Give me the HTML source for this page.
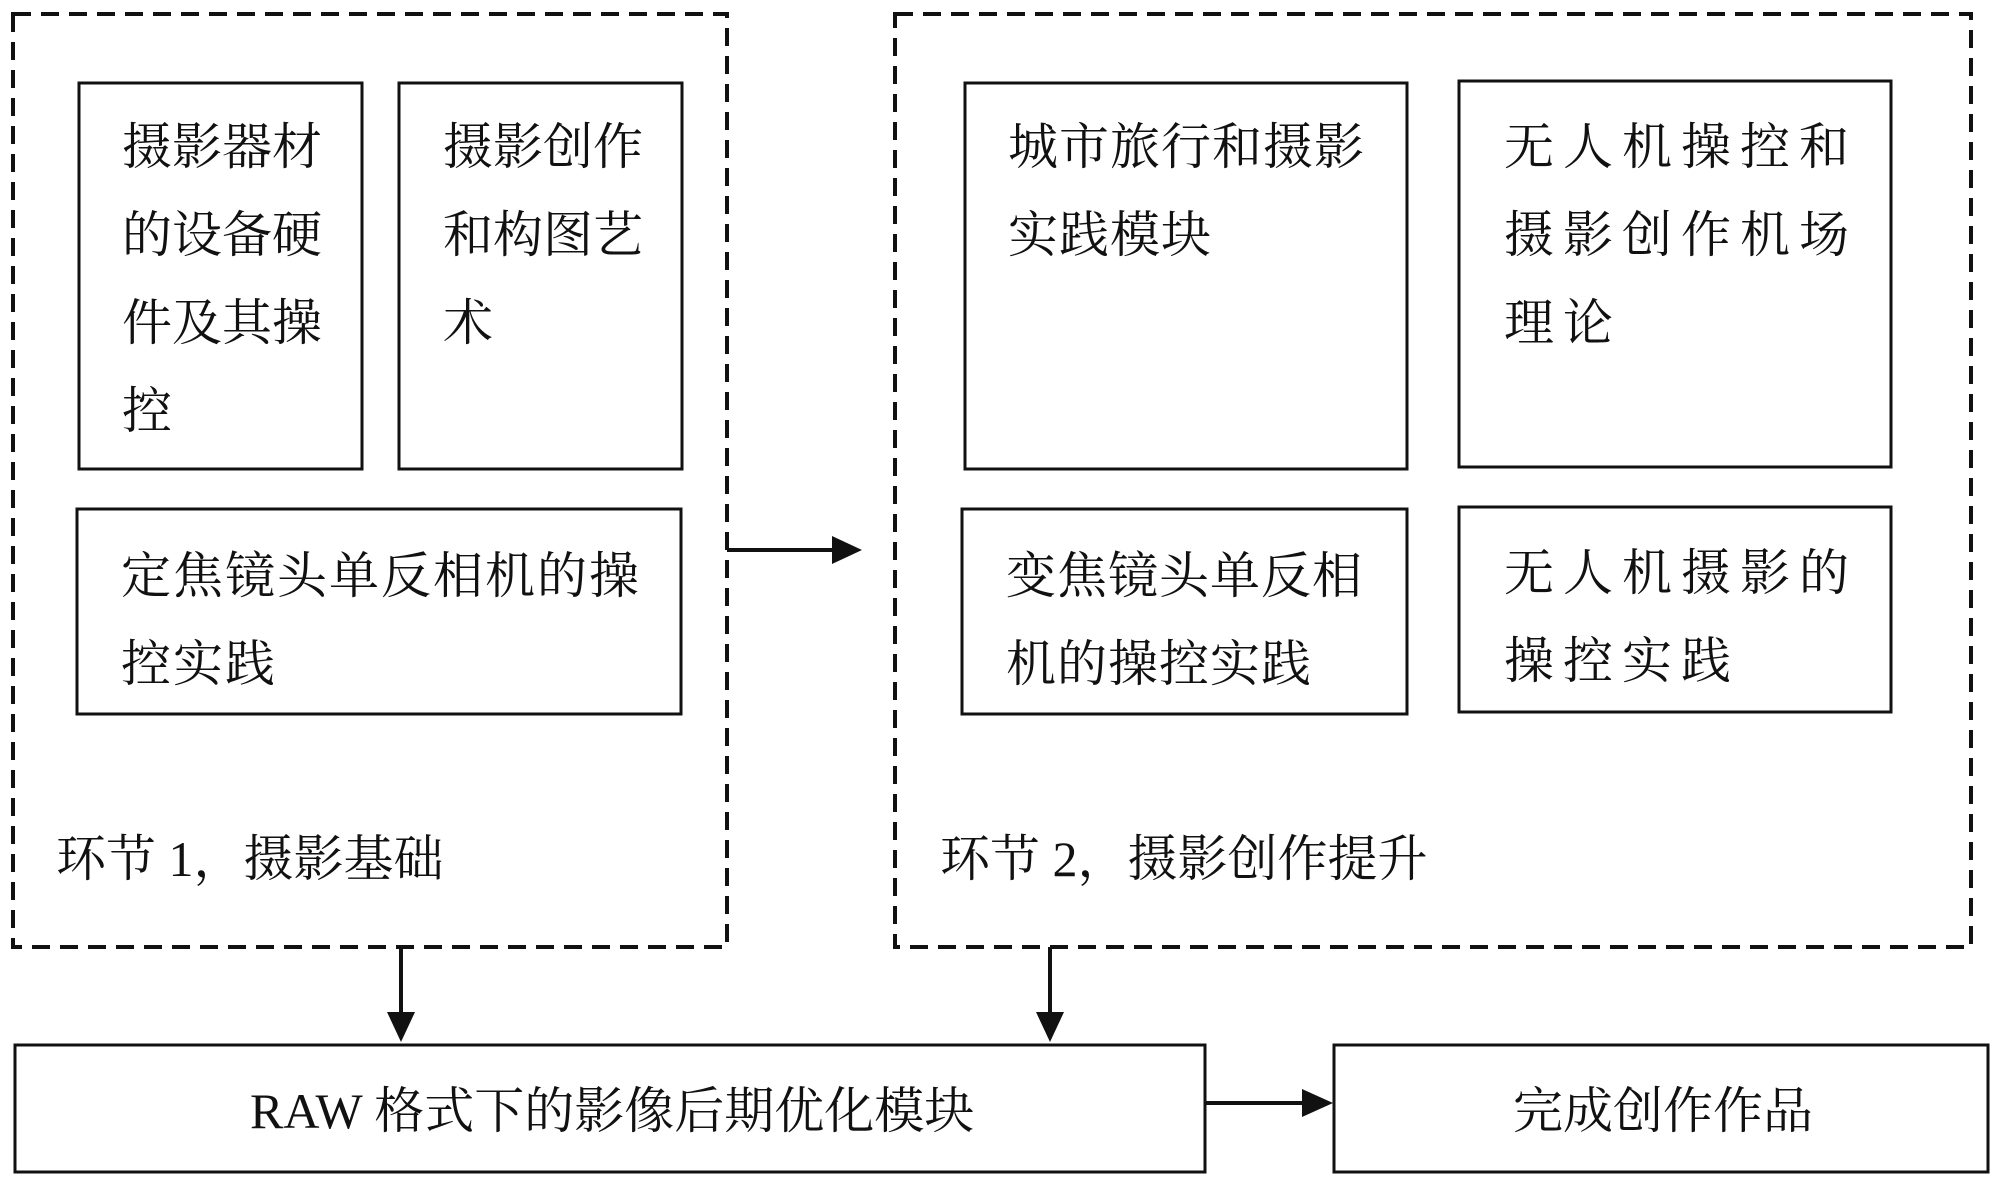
<!DOCTYPE html>
<html><head><meta charset="utf-8"><style>
html,body{margin:0;padding:0;background:#fff;}
body{width:2000px;height:1197px;position:relative;overflow:hidden;}
.t{position:absolute;font-family:"Liberation Serif","Noto Serif CJK SC",serif;font-size:50px;line-height:88px;color:#111;white-space:nowrap;}
svg{position:absolute;left:0;top:0;}
</style></head><body>
<svg width="2000" height="1197" viewBox="0 0 2000 1197">
<g fill="none" stroke="#111" stroke-width="4" stroke-dasharray="18 10">
<rect x="13" y="14" width="714" height="933"/>
<rect x="895" y="14" width="1076" height="933"/>
</g>
<g fill="none" stroke="#111" stroke-width="3">
<rect x="79" y="83" width="283" height="386"/>
<rect x="399" y="83" width="283" height="386"/>
<rect x="77" y="509" width="604" height="205"/>
<rect x="965" y="83" width="442" height="386"/>
<rect x="1459" y="81" width="432" height="386"/>
<rect x="962" y="509" width="445" height="205"/>
<rect x="1459" y="507" width="432" height="205"/>
<rect x="15" y="1045" width="1190" height="127"/>
<rect x="1334" y="1045" width="654" height="127"/>
</g>
<g stroke="#111" stroke-width="4" fill="#111">
<line x1="727" y1="550" x2="835" y2="550"/><polygon points="832,536 862,550 832,564" stroke="none"/>
<line x1="401" y1="947" x2="401" y2="1015"/><polygon points="387,1012 401,1042 415,1012" stroke="none"/>
<line x1="1050" y1="947" x2="1050" y2="1015"/><polygon points="1036,1012 1050,1042 1064,1012" stroke="none"/>
<line x1="1205" y1="1103" x2="1305" y2="1103"/><polygon points="1302,1089 1333,1103 1302,1117" stroke="none"/>
</g>
</svg>
<div class="t" style="left:122px;top:103px;">摄影器材<br>的设备硬<br>件及其操<br>控</div>
<div class="t" style="left:443px;top:103px;">摄影创作<br>和构图艺<br>术</div>
<div class="t" style="left:121px;top:532px;letter-spacing:2px;">定焦镜头单反相机的操<br>控实践</div>
<div class="t" style="left:56px;top:815px;">环节 1，摄影基础</div>
<div class="t" style="left:1008px;top:103px;letter-spacing:1px;">城市旅行和摄影<br>实践模块</div>
<div class="t" style="left:1504px;top:103px;letter-spacing:9px;">无人机操控和<br>摄影创作机场<br>理论</div>
<div class="t" style="left:1006px;top:532px;letter-spacing:1px;">变焦镜头单反相<br>机的操控实践</div>
<div class="t" style="left:1504px;top:529px;letter-spacing:9px;">无人机摄影的<br>操控实践</div>
<div class="t" style="left:940px;top:815px;">环节 2，摄影创作提升</div>
<div class="t" style="left:250px;top:1067px;">RAW 格式下的影像后期优化模块</div>
<div class="t" style="left:1513px;top:1067px;">完成创作作品</div>
</body></html>
